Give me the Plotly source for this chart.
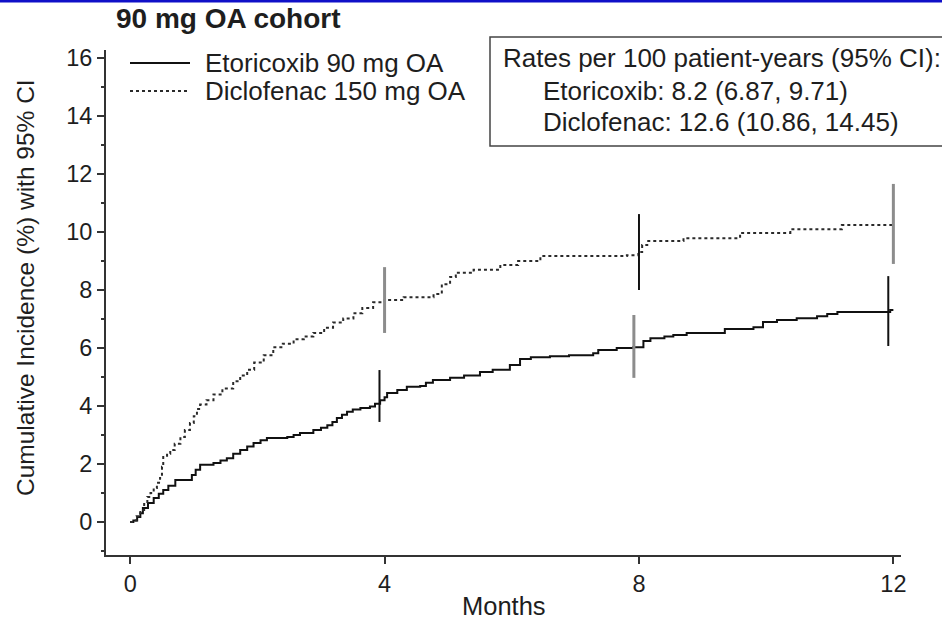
import plotly.graph_objects as go

# Cumulative incidence step curves (months, %)
eto_months = [0, 0.05, 0.11, 0.16, 0.2, 0.28, 0.37, 0.45, 0.52, 0.6, 0.71, 0.97, 1.03, 1.1,
              1.31, 1.42, 1.52, 1.62, 1.73, 1.84, 1.94, 2.05, 2.15, 2.47, 2.57, 2.67, 2.88,
              3.0, 3.1, 3.18, 3.25, 3.33, 3.41, 3.5, 3.62, 3.77, 3.85, 3.93, 4.0, 4.04, 4.2,
              4.35, 4.56, 4.65, 4.76, 5.03, 5.25, 5.5, 5.7, 5.97, 6.13, 6.3, 6.6, 6.9, 7.28,
              7.36, 7.65, 7.91, 8.07, 8.18, 8.4, 8.54, 8.75, 9.35, 9.8, 9.95, 10.17, 10.48,
              10.8, 10.96, 11.12, 11.95, 12.0]
eto_incidence = [0, 0.05, 0.17, 0.3, 0.48, 0.65, 0.83, 0.97, 1.1, 1.25, 1.45, 1.62, 1.8, 1.97,
                 2.03, 2.12, 2.2, 2.35, 2.48, 2.6, 2.72, 2.82, 2.9, 2.93, 3.0, 3.07, 3.17,
                 3.25, 3.34, 3.45, 3.59, 3.7, 3.8, 3.88, 3.93, 3.98, 4.08, 4.2, 4.3, 4.45, 4.55,
                 4.66, 4.69, 4.8, 4.9, 4.97, 5.05, 5.17, 5.25, 5.41, 5.62, 5.68, 5.72, 5.75, 5.82,
                 5.93, 6.0, 6.03, 6.24, 6.34, 6.4, 6.45, 6.52, 6.66, 6.72, 6.9, 6.97, 7.03,
                 7.1, 7.17, 7.24, 7.31, 7.31]

dic_months = [0, 0.05, 0.1, 0.16, 0.22, 0.27, 0.32, 0.37, 0.42, 0.47, 0.5, 0.52, 0.58, 0.63,
              0.7, 0.79, 0.86, 0.94, 1.0, 1.05, 1.1, 1.2, 1.31, 1.45, 1.62, 1.73, 1.84, 1.95,
              2.1, 2.25, 2.4, 2.57, 2.73, 2.88, 3.05, 3.19, 3.35, 3.51, 3.65, 3.82, 4.0, 4.3,
              4.77, 4.9, 5.03, 5.12, 5.4, 5.82, 6.1, 6.45, 7.81, 7.99, 8.05, 8.13, 8.7, 9.59,
              10.38, 11.19, 12.0]
dic_incidence = [0, 0.05, 0.2, 0.41, 0.62, 0.86, 1.0, 1.17, 1.35, 1.52, 1.9, 2.24, 2.35, 2.48,
                 2.7, 2.93, 3.17, 3.41, 3.65, 3.9, 4.05, 4.2, 4.4, 4.6, 4.85, 5.05, 5.25, 5.5,
                 5.75, 6.03, 6.15, 6.3, 6.4, 6.52, 6.7, 6.88, 7.02, 7.2, 7.38, 7.58, 7.66, 7.75,
                 7.86, 8.2, 8.45, 8.6, 8.7, 8.86, 9.0, 9.17, 9.2, 9.31, 9.55, 9.69, 9.79, 9.97,
                 10.1, 10.24, 10.24]

# 95% confidence intervals at 4, 8 and 12 months
ci_months = [4, 8, 12]
eto_ci_low = [3.45, 4.97, 6.07]
eto_ci_high = [5.24, 7.14, 8.48]
dic_ci_low = [6.52, 8.0, 8.9]
dic_ci_high = [8.79, 10.62, 11.66]

# which interval bars are drawn in grey (True) or black (False)
eto_ci_grey = [False, True, False]
dic_ci_grey = [True, False, True]

y_ticks = [0, 2, 4, 6, 8, 10, 12, 14, 16]
x_ticks = [0, 4, 8, 12]

W, H = 942, 620
ML, MR, MT, MB = 106, 41, 50, 65
PW, PH = W - ML - MR, H - MT - MB


def px(x):
    return (x - ML) / PW


def py(y):
    return (H - MB - y) / PH


FONT = "Liberation Sans, Arial, sans-serif"
INK = "#1e1e1e"

fig = go.Figure()

fig.add_trace(go.Scatter(x=eto_months, y=eto_incidence, mode="lines",
                         line=dict(color="#111111", width=2, shape="hv"),
                         name="Etoricoxib 90 mg OA", showlegend=False))
fig.add_trace(go.Scatter(x=dic_months, y=dic_incidence, mode="lines",
                         line=dict(color="#2a2a2a", width=2, shape="hv", dash="3px,3px"),
                         name="Diclofenac 150 mg OA", showlegend=False))


def ci_segments(months, lows, highs, greys, want_grey, offset):
    xs, ys = [], []
    for m, lo, hi, g in zip(months, lows, highs, greys):
        if g == want_grey:
            xs += [m + offset, m + offset, None]
            ys += [lo, hi, None]
    return xs, ys


for want_grey, colour, width in [(False, "#111111", 2), (True, "#8c8c8c", 3)]:
    for lows, highs, greys, off in [(eto_ci_low, eto_ci_high, eto_ci_grey, -0.08),
                                    (dic_ci_low, dic_ci_high, dic_ci_grey, 0.0)]:
        xs, ys = ci_segments(ci_months, lows, highs, greys, want_grey, off)
        if xs:
            fig.add_trace(go.Scatter(x=xs, y=ys, mode="lines",
                                     line=dict(color=colour, width=width),
                                     showlegend=False, hoverinfo="skip"))

shapes = [
    # legend samples
    dict(type="line", xref="paper", yref="paper", x0=px(130), x1=px(190), y0=py(63), y1=py(63),
         line=dict(color="#111111", width=2)),
    dict(type="line", xref="paper", yref="paper", x0=px(130), x1=px(190), y0=py(91), y1=py(91),
         line=dict(color="#2a2a2a", width=2, dash="3px,3px")),
    # rates box
    dict(type="rect", xref="paper", yref="paper", x0=px(490), x1=px(952), y0=py(146), y1=py(37),
         line=dict(color="#444444", width=1.5), fillcolor="rgba(0,0,0,0)"),
    # blue rule along the top edge
    dict(type="rect", xref="paper", yref="paper", x0=px(0), x1=px(W), y0=py(2.5), y1=py(0),
         line=dict(width=0), fillcolor="#1010c8"),
]

annotations = [
    dict(text="<b>90 mg OA cohort</b>", x=px(114), y=py(19), xanchor="left", yanchor="middle",
         font=dict(size=28, color=INK)),
    dict(text="Etoricoxib 90 mg OA", x=px(203), y=py(63), xanchor="left", yanchor="middle",
         font=dict(size=26, color=INK)),
    dict(text="Diclofenac 150 mg OA", x=px(203), y=py(91), xanchor="left", yanchor="middle",
         font=dict(size=26, color=INK)),
    dict(text="Rates per 100 patient-years (95% CI):", x=px(501), y=py(58), xanchor="left",
         yanchor="middle", font=dict(size=26, color=INK)),
    dict(text="Etoricoxib: 8.2 (6.87, 9.71)", x=px(541), y=py(91), xanchor="left",
         yanchor="middle", font=dict(size=26, color=INK)),
    dict(text="Diclofenac: 12.6 (10.86, 14.45)", x=px(541), y=py(122), xanchor="left",
         yanchor="middle", font=dict(size=26, color=INK)),
    dict(text="Months", x=px(504), y=py(606), xanchor="center", yanchor="middle",
         font=dict(size=25.5, color=INK)),
    dict(text="Cumulative Incidence (%) with 95% CI", x=px(25), y=py(288), xanchor="center",
         yanchor="middle", textangle=-90, font=dict(size=24.5, color=INK)),
]
for a in annotations:
    a.update(xref="paper", yref="paper", showarrow=False)

axis_common = dict(showline=True, linecolor="#333333", linewidth=2, ticks="outside",
                   ticklen=7, tickwidth=1.5, tickcolor="#333333", showgrid=False,
                   zeroline=False, tickfont=dict(size=23.5, color=INK, family=FONT))

fig.update_layout(
    width=W, height=H,
    margin=dict(l=ML, r=MR, t=MT, b=MB, pad=0),
    paper_bgcolor="white", plot_bgcolor="white",
    font=dict(family=FONT, color=INK),
    xaxis=dict(range=[-0.38, 12.12], tickvals=x_ticks, **axis_common),
    yaxis=dict(range=[-1.14, 16.28], tickvals=y_ticks,
               minor=dict(ticks="outside", ticklen=3, tickwidth=1.5, tickcolor="#333333",
                          dtick=1, tick0=0, showgrid=False),
               **axis_common),
    shapes=shapes,
    annotations=annotations,
    showlegend=False,
)

fig.write_html("out.html")
